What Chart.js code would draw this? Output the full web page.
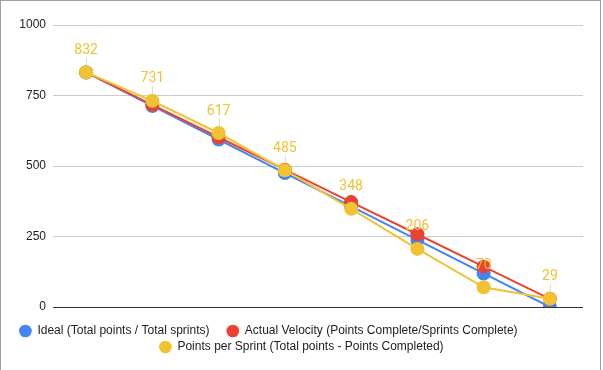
<!DOCTYPE html>
<html>
<head>
<meta charset="utf-8">
<title>Burndown</title>
<script src="https://cdn.jsdelivr.net/npm/chart.js@4.4.1/dist/chart.umd.min.js"></script>
<style>
  html, body { margin: 0; padding: 0; background: #fff; }
  #wrap { position: relative; width: 603px; height: 370px; }
  #frame {
    position: absolute; left: 0; top: 0; width: 601px; height: 370px;
    box-sizing: border-box; border: 1px solid #9e9e9e; border-bottom: none;
    pointer-events: none;
  }
</style>
</head>
<body>
<div id="wrap">
  <canvas id="burndown-chart" width="603" height="370"></canvas>
  <div id="frame"></div>
</div>
<script>
    'use strict';

    // Data
    const sprints = ['Sprint 1', 'Sprint 2', 'Sprint 3', 'Sprint 4', 'Sprint 5', 'Sprint 6', 'Sprint 7', 'Sprint 8'];
    const idealValues = [832, 713, 594, 475, 357, 238, 119, 0];
    const actualValues = [832, 717, 602, 487, 372, 258, 143, 29];
    const pointsPerSprint = [832, 731, 617, 485, 348, 206, 70, 29];
    const yTicks = [0, 250, 500, 750, 1000];

    const seriesNames = [
        'Ideal (Total points / Total sprints)',
        'Actual Velocity (Points Complete/Sprints Complete)',
        'Points per Sprint (Total points - Points Completed)'
    ];

    const BLUE = '#4285F4';
    const RED = '#EA4335';
    const YELLOW = '#F1C232';

    // Leader lines under the markers, value labels on top
    const pointLabels = {
        id: 'pointLabels',
        beforeDatasetsDraw: function(chart) {
            const meta = chart.getDatasetMeta(2);
            const ctx = chart.ctx;
            ctx.save();
            ctx.strokeStyle = '#dddddd';
            ctx.lineWidth = 1;
            meta.data.forEach(function(pt) {
                const x = Math.round(pt.x) + 0.5;
                ctx.beginPath();
                ctx.moveTo(x, pt.y - 7);
                ctx.lineTo(x, pt.y - 15);
                ctx.stroke();
            });
            ctx.restore();
        },
        afterDatasetsDraw: function(chart) {
            const meta = chart.getDatasetMeta(2);
            const ctx = chart.ctx;
            ctx.save();
            ctx.font = '14px Roboto, Arial, sans-serif';
            ctx.textAlign = 'center';
            ctx.textBaseline = 'middle';
            ctx.fillStyle = YELLOW;
            meta.data.forEach(function(pt, i) {
                ctx.fillText(String(pointsPerSprint[i]), pt.x, pt.y - 22);
            });
            ctx.restore();
        }
    };

    // First legend row sits left of centre in the reference
    const legendShift = {
        id: 'legendShift',
        afterLayout: function(chart) {
            if (chart.legend && chart.legend.lineWidths && chart.legend.lineWidths.length > 1) {
                chart.legend.lineWidths[0] += 66;
            }
        }
    };

    const makeSeries = function(label, values, color, order) {
        return {
            label: label,
            data: values,
            borderColor: color,
            backgroundColor: color,
            borderWidth: 2,
            pointStyle: 'circle',
            pointRadius: 7,
            pointBorderWidth: 0,
            pointHoverRadius: 7,
            tension: 0,
            order: order
        };
    };

    const ctx = document.getElementById('burndown-chart');

    new Chart(ctx, {
        type: 'line',
        data: {
            labels: sprints,
            datasets: [
                makeSeries(seriesNames[0], idealValues, BLUE, 3),
                makeSeries(seriesNames[1], actualValues, RED, 2),
                makeSeries(seriesNames[2], pointsPerSprint, YELLOW, 1)
            ]
        },
        plugins: [pointLabels, legendShift],
        options: {
            responsive: false,
            animation: false,
            layout: {
                padding: { top: 25, bottom: 7, left: 0, right: 0 }
            },
            plugins: {
                tooltip: { enabled: false },
                legend: {
                    position: 'bottom',
                    labels: {
                        usePointStyle: true,
                        boxWidth: 12,
                        boxHeight: 9,
                        padding: 4,
                        color: '#222222',
                        font: { family: 'Liberation Sans, Arial, sans-serif', size: 12 },
                        sort: function(a, b) {
                            return a.datasetIndex - b.datasetIndex;
                        },
                        generateLabels: function(chart) {
                            const items = Chart.defaults.plugins.legend.labels.generateLabels(chart);
                            items.forEach(function(item) {
                                item.lineWidth = 0;
                                if (item.datasetIndex === 0) {
                                    item.text = item.text + '    ';
                                }
                            });
                            return items;
                        }
                    }
                }
            },
            scales: {
                x: {
                    offset: true,
                    grid: { display: false },
                    border: { display: false },
                    ticks: { display: false },
                    afterFit: function(scale) {
                        scale.height = 14;
                    }
                },
                y: {
                    min: 0,
                    max: 1000,
                    afterBuildTicks: function(scale) {
                        scale.ticks = yTicks.map(function(v) { return { value: v }; });
                    },
                    afterFit: function(scale) {
                        scale.width = 53;
                    },
                    grid: {
                        drawTicks: false,
                        lineWidth: 1,
                        color: function(c) {
                            return c.tick && c.tick.value === 0 ? '#333333' : '#cccccc';
                        }
                    },
                    border: { display: false },
                    ticks: {
                        padding: 7,
                        color: '#222222',
                        font: { family: 'Liberation Sans, Arial, sans-serif', size: 12 },
                        callback: function(value) {
                            return String(value);
                        }
                    }
                },
                yRight: {
                    position: 'right',
                    grid: { display: false },
                    border: { display: false },
                    ticks: { display: false },
                    afterFit: function(scale) {
                        scale.width = 20;
                    }
                }
            }
        }
    });
</script>
</body>
</html>
